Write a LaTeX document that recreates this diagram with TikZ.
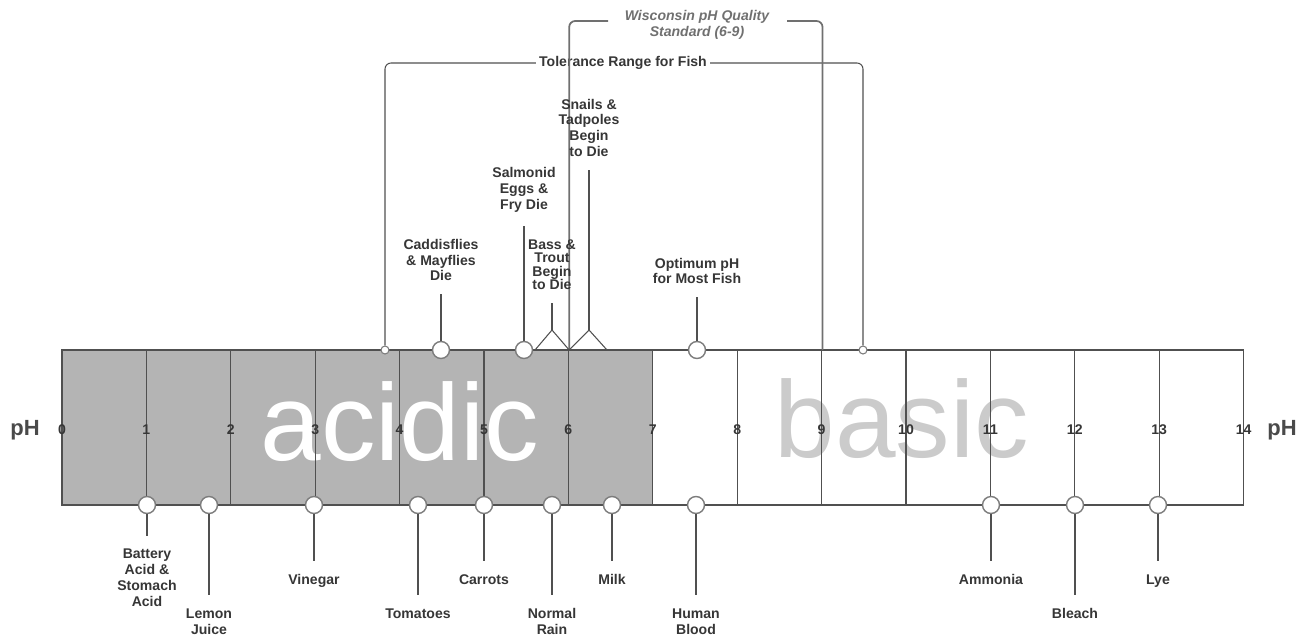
\documentclass[tikz,border=0pt]{standalone}
\usepackage{fontspec}
\setmainfont{Liberation Sans}
\usetikzlibrary{positioning}
\definecolor{acidgray}{HTML}{B4B4B4}
\definecolor{edgegray}{HTML}{505050}
\definecolor{ringgray}{HTML}{7C7C7C}
\definecolor{inkgray}{HTML}{363636}
\definecolor{basegray}{HTML}{CBCBCB}
\definecolor{stdgray}{HTML}{707070}

\begin{document}
\begin{tikzpicture}[x=0.02cm, y=-0.02cm,
  ring/.style={circle, draw=ringgray, fill=white, line width=0.8pt,
               minimum size=0.34cm, inner sep=0},
  smallring/.style={circle, draw=ringgray, fill=white, line width=0.6pt,
                    minimum size=0.16cm, inner sep=0},
  lbl/.style={font=\fontsize{8}{9}\selectfont\bfseries, text=inkgray,
              align=center, inner sep=0},
  tight/.style={font=\fontsize{8}{7.6}\selectfont\bfseries},
  num/.style={font=\fontsize{8}{9}\selectfont\bfseries, text=inkgray, inner sep=0},
  phlbl/.style={font=\fontsize{12.5}{14}\selectfont\bfseries, text=inkgray!90},
  bigword/.style={font=\fontsize{62}{62}\selectfont, anchor=base, inner sep=0},
  stdlbl/.style={font=\fontsize{8}{9}\selectfont\bfseries\itshape, text=stdgray,
                 align=center, inner sep=0},
  barline/.style={draw=edgegray, line width=0.6pt},
  pin/.style={draw=edgegray, line width=0.6pt, shorten >=0.26cm},
  brk/.style={draw=edgegray, line width=0.6pt, rounded corners=0.12cm},
  stdline/.style={draw=stdgray, line width=1pt, rounded corners=0.12cm},
]
\useasboundingbox (0,0) rectangle (1308,636);
% acidic half and the two words
\fill[acidgray] (62,350) rectangle (652.8,505);
\node[bigword, text=white] (acidw) at (400,460) {acidic};
\node[bigword, text=basegray] (basew) at (902,457) {basic};
% scale cells and numbers
\draw[barline] (62,350) rectangle (1243.6,505);
\foreach \i in {1,...,13}
  \draw[barline] ({62+84.4*\i},350) -- ({62+84.4*\i},505);
\foreach \i in {0,...,14}
  \node[num] (n\i) at ({62+84.4*\i},430) {\i};
\node[phlbl] (phl) at (25,430) {pH};
\node[phlbl] (phr) at (1282,430) {pH};

% tolerance range for fish
\node[smallring] (tlo) at (385,350) {};
\node[smallring] (thi) at (863,350) {};
\node[lbl, inner xsep=0.06cm] (tol) at (623,63) {Tolerance Range for Fish};
\draw[brk] (tlo) |- (tol.west);
\draw[brk] (tol.east) -| (thi);

% Wisconsin standard
\coordinate (wlo) at (569.2,350);
\coordinate (whi) at (822.5,350);
\node[stdlbl] (wis) at (697,25) {Wisconsin pH Quality\\Standard (6-9)};
\coordinate (wla) at (608,21);
\coordinate (wrb) at (787,21);
\draw[stdline] (wlo) |- (wla);
\draw[stdline] (wrb) -| (whi);

% markers above the scale
\node[ring] (cadm) at (441,350) {};
\node[ring] (salm) at (524,350) {};
\node[ring] (optm) at (697,350) {};
\coordinate (bassa) at (535,350);
\coordinate (bassj) at (552,330);
\coordinate (bassb) at (569.2,350);
\coordinate (snaa) at (569.2,350);
\coordinate (snaj) at (589,330);
\coordinate (snab) at (607,350);
\draw[barline] (bassa) -- (bassj) -- (bassb);
\draw[barline] (snaa) -- (snaj) -- (snab);

\node[lbl, above=1.19cm of cadm] (cadl) {Caddisflies\\\& Mayflies\\Die};
\node[lbl, above=2.56cm of salm] (sall) {Salmonid\\Eggs \&\\Fry Die};
\node[lbl, above=1.13cm of optm] (optl) {Optimum pH\\for Most Fish};
\node[lbl, tight, above=0.8cm of bassj] (bassl) {Bass \&\\Trout\\Begin\\to Die};
\node[lbl, above=3.46cm of snaj] (snal) {Snails \&\\Tadpoles\\Begin\\to Die};

% markers below the scale
\node[ring] (batm) at (147,505) {};
\node[ring] (lemm) at (209,505) {};
\node[ring] (vinm) at (314,505) {};
\node[ring] (tomm) at (418,505) {};
\node[ring] (carm) at (484,505) {};
\node[ring] (rainm) at (552,505) {};
\node[ring] (milkm) at (612,505) {};
\node[ring] (bloodm) at (696,505) {};
\node[ring] (ammm) at (991,505) {};
\node[ring] (blchm) at (1075,505) {};
\node[ring] (lyem) at (1158,505) {};

\node[lbl, below=0.69cm of batm] (batl) {Battery\\Acid \&\\Stomach\\Acid};
\node[lbl, below=1.88cm of lemm] (leml) {Lemon\\Juice};
\node[lbl, below=1.2cm of vinm] (vinl) {Vinegar};
\node[lbl, below=1.88cm of tomm] (toml) {Tomatoes};
\node[lbl, below=1.2cm of carm] (carl) {Carrots};
\node[lbl, below=1.88cm of rainm] (rainl) {Normal\\Rain};
\node[lbl, below=1.2cm of milkm] (milkl) {Milk};
\node[lbl, below=1.88cm of bloodm] (bloodl) {Human\\Blood};
\node[lbl, below=1.2cm of ammm] (amml) {Ammonia};
\node[lbl, below=1.88cm of blchm] (blchl) {Bleach};
\node[lbl, below=1.2cm of lyem] (lyel) {Lye};

% pins
\foreach \m/\l in {cadm/cadl, salm/sall, optm/optl, bassj/bassl, snaj/snal,
                   batm/batl, lemm/leml, vinm/vinl, tomm/toml, carm/carl,
                   rainm/rainl, milkm/milkl, bloodm/bloodl, ammm/amml,
                   blchm/blchl, lyem/lyel}
  \draw[pin] (\m) -- (\l);
\end{tikzpicture}
\end{document}
